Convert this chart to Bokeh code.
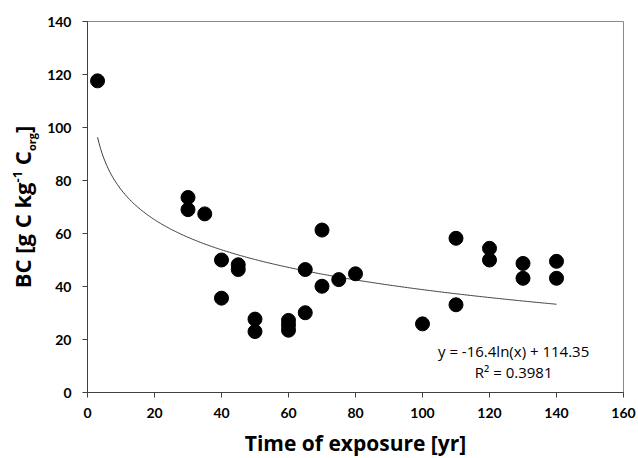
import numpy as np
from bokeh.plotting import figure
from bokeh.layouts import row
from bokeh.models import Range1d, Label, ColumnDataSource, FixedTicker, Div
from bokeh.embed import file_html
from bokeh.resources import INLINE

# data
time_yr = [3, 30, 30, 35, 40, 40, 45, 45, 50, 50, 60, 60, 60, 65, 65, 70, 70, 75, 80,
           100, 110, 110, 120, 120, 130, 130, 140, 140]
bc = [117.6, 73.6, 69.0, 67.4, 50.0, 35.6, 48.2, 46.4, 27.7, 23.0, 27.2, 25.5, 23.5,
      46.4, 30.1, 61.3, 40.1, 42.6, 44.8, 25.9, 58.2, 33.1, 54.4, 50.0, 48.7, 43.1, 49.5, 43.1]

# logarithmic trend line shown on the chart: y = a ln(x) + b
trend_a = -16.4
trend_b = 114.35
trend_xmin, trend_xmax = 3, 140
x_ticks = [0, 20, 40, 60, 80, 100, 120, 140, 160]
y_ticks = [0, 20, 40, 60, 80, 100, 120, 140]
eq_text = "y = -16.4ln(x) + 114.35"
r2_text = "R² = 0.3981"
x_title = "Time of exposure [yr]"
y_title_main = "BC [g C kg"
y_title_sup = "-1"
y_title_mid = " C"
y_title_sub = "org"
y_title_end = "]"

TICK_FONT = "Lato"
TITLE_FONT = "Open Sans"

W, H = 638, 458
LEFT_W = 44

p = figure(frame_width=536, frame_height=371, output_backend="svg", toolbar_location=None,
           title=None, x_range=Range1d(0, 160), y_range=Range1d(0, 140),
           min_border_left=86 - LEFT_W, min_border_right=16, min_border_top=21,
           min_border_bottom=66)
p.background_fill_color = "white"
p.border_fill_color = "white"
p.outline_line_color = "#8a8a8a"
p.outline_line_width = 1
p.xgrid.visible = False
p.ygrid.visible = False

for ax in (p.xaxis[0], p.yaxis[0]):
    ax.axis_line_color = "#404040"
    ax.major_tick_line_color = "#404040"
    ax.minor_tick_line_color = None
    ax.major_tick_in = 0
    ax.major_tick_out = 5
    ax.major_label_text_font = TICK_FONT
    ax.major_label_text_font_style = "bold"
    ax.major_label_text_font_size = "14px"
    ax.major_label_text_color = "black"
p.xaxis.major_label_standoff = 10
p.yaxis.major_label_standoff = 11

p.xaxis.ticker = FixedTicker(ticks=x_ticks)
p.yaxis.ticker = FixedTicker(ticks=y_ticks)
p.xaxis.axis_label = x_title
p.xaxis.axis_label_text_font = TITLE_FONT
p.xaxis.axis_label_text_font_style = "bold"
p.xaxis.axis_label_text_font_size = "21px"
p.xaxis.axis_label_text_color = "black"
p.xaxis.axis_label_standoff = 8

# trend line
tx = np.linspace(trend_xmin, trend_xmax, 300)
ty = trend_a * np.log(tx) + trend_b
p.line(tx, ty, line_color="#404040", line_width=1)

src = ColumnDataSource(dict(x=time_yr, y=bc))
p.scatter("x", "y", source=src, size=14, fill_color="black", line_color="black")

p.add_layout(Label(x=127.2, y=15.8, text=eq_text, text_font=TITLE_FONT, text_font_size="15px",
                   text_align="center", text_baseline="middle", text_color="black"))
p.add_layout(Label(x=127.2, y=7.9, text=r2_text, text_font=TITLE_FONT, text_font_size="15px",
                   text_align="center", text_baseline="middle", text_color="black"))

# rotated y-axis title as real HTML text (with super/subscripts) in a narrow side column
title_html = (
    f'<div style="position:relative;width:{LEFT_W}px;height:{H}px;overflow:visible;">'
    '<div style="position:absolute;left:23.5px;top:206.5px;'
    'transform:translate(-50%,-50%) rotate(-90deg);white-space:nowrap;'
    f"font-family:'{TITLE_FONT}';font-weight:bold;font-size:22px;line-height:22px;color:black;\">"
    f'{y_title_main}'
    f'<span style="position:relative;top:-9px;font-size:13px;">{y_title_sup}</span>'
    f'{y_title_mid}'
    f'<span style="position:relative;top:5px;font-size:11px;">{y_title_sub}</span>'
    f'{y_title_end}'
    '</div></div>'
)
ytitle = Div(text=title_html, width=LEFT_W, height=H, margin=(0, 0, 0, 0))

layout = row(ytitle, p, spacing=0)
open("out.html", "w").write(file_html(layout, INLINE))
